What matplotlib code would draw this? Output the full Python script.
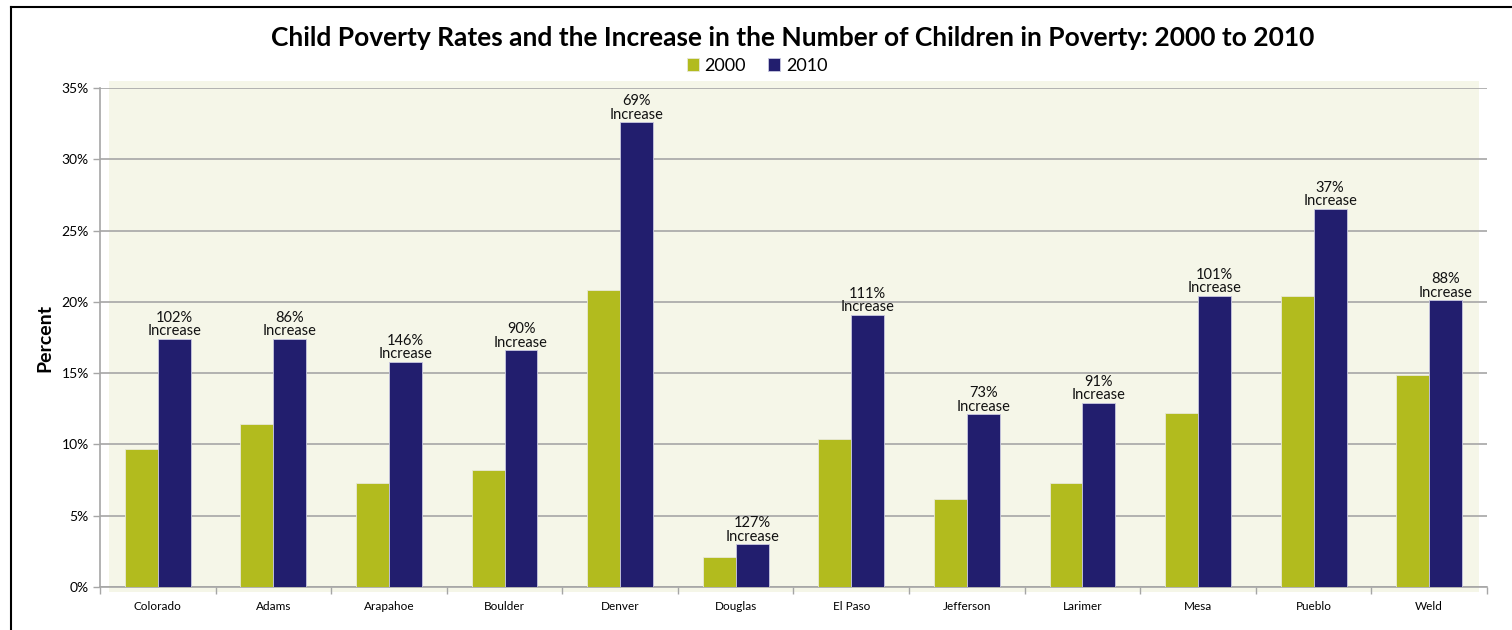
import numpy as np
import matplotlib.pyplot as plt
from matplotlib.lines import Line2D
from matplotlib.patches import Rectangle

plt.rcParams['font.family'] = ['Lato', 'DejaVu Sans']

counties = ['Colorado', 'Adams', 'Arapahoe', 'Boulder', 'Denver', 'Douglas',
            'El Paso', 'Jefferson', 'Larimer', 'Mesa', 'Pueblo', 'Weld']
rate_2000 = [9.7, 11.4, 7.3, 8.2, 20.8, 2.1, 10.4, 6.2, 7.3, 12.2, 20.4, 14.9]
rate_2010 = [17.4, 17.4, 15.8, 16.6, 32.6, 3.0, 19.1, 12.1, 12.9, 20.4, 26.5, 20.1]
increase = ['102%', '86%', '146%', '90%', '69%', '127%',
            '111%', '73%', '91%', '101%', '37%', '88%']

green = '#B2BB1E'
navy = '#221E6E'
grid_col = '#A6A6A6'

fig = plt.figure(figsize=(15.12, 6.3), dpi=100)
ax = fig.add_axes([100 / 1512, 1 - 587 / 630, 1387 / 1512, 499 / 630])

x = np.arange(len(counties))
w = 0.285
ax.bar(x - w / 2, rate_2000, w, color=green, edgecolor='#E8E8D8', linewidth=0.6,
       label='2000', zorder=3)
ax.bar(x + w / 2, rate_2010, w, color=navy, edgecolor='#C8C8E0', linewidth=0.6,
       label='2010', zorder=3)

for xi, v, t in zip(x, rate_2010, increase):
    ax.text(xi + w / 2, v + 0.05, t + '\nIncrease', ha='center', va='bottom',
            fontsize=10.5, linespacing=0.95, color='#111111', zorder=4)

# cream plot background, slightly inset from the axes frame
ax.set_facecolor('white')
ax.add_patch(Rectangle((0.0065, -0.01), 0.9875, 1.024, transform=ax.transAxes,
                       facecolor='#F5F6E8', edgecolor='none', zorder=0,
                       clip_on=False))

ax.set_xlim(-0.5, len(counties) - 0.5)
ax.set_ylim(0, 35)
ax.set_yticks(np.arange(0, 36, 5))
ax.set_yticklabels([f'{v}%' for v in range(0, 36, 5)], fontsize=10)
ax.yaxis.grid(True, color=grid_col, linewidth=1.2, zorder=1)
ax.set_axisbelow(True)

ax.set_xticks(x)
ax.set_xticklabels(counties, fontsize=8.5)
ax.set_xticks(np.arange(-0.5, len(counties), 1), minor=True)
ax.tick_params(axis='x', which='major', length=0, pad=10)
ax.tick_params(axis='x', which='minor', length=5, color=grid_col, width=1)
ax.tick_params(axis='y', length=5, color=grid_col, width=1, pad=3)

for s in ['top', 'right']:
    ax.spines[s].set_visible(False)
for s in ['left', 'bottom']:
    ax.spines[s].set_color(grid_col)
    ax.spines[s].set_linewidth(1.2)

ax.set_ylabel('Percent', fontsize=14, fontweight='bold', labelpad=6)

fig.text(793 / 1512, 1 - 38 / 630, 'Child Poverty Rates and the Increase in the Number of Children in Poverty: 2000 to 2010',
         ha='center', va='center', fontsize=19, fontweight='bold')

fig.legend(loc='center', bbox_to_anchor=(757 / 1512, 1 - 66 / 630), ncol=2,
           frameon=False, fontsize=13, handlelength=0.7, handleheight=0.7,
           handletextpad=0.3, columnspacing=1.2)

# outer frame lines
fig.add_artist(Line2D([11 / 1512, 1], [1 - 7 / 630, 1 - 7 / 630], color='black', linewidth=1.5))
fig.add_artist(Line2D([11 / 1512, 11 / 1512], [0, 1 - 7 / 630], color='black', linewidth=1.5))

fig.savefig('out.png', dpi=100)
